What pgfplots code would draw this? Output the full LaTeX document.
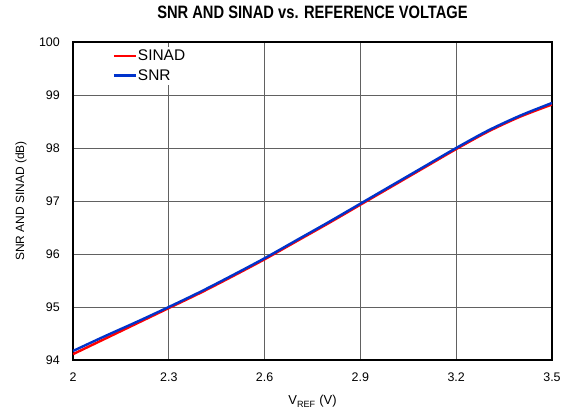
\documentclass[border=0pt]{standalone}
\usepackage{pgfplots}
\pgfplotsset{compat=1.18}
\usepackage{fontspec}
\setmainfont{Liberation Sans}
\newfontfamily\titlefont[FakeStretch=0.82]{Liberation Sans}
\definecolor{snrblue}{RGB}{0,51,204}
\definecolor{sinadred}{RGB}{255,0,0}
\begin{document}
\begin{tikzpicture}[x=1bp,y=1bp]
\begin{axis}[
  scale only axis,
  width=479bp, height=318bp,
  xmin=2, xmax=3.5, ymin=94, ymax=100,
  xtick={2,2.3,2.6,2.9,3.2,3.5},
  xticklabels={2,2.3,2.6,2.9,3.2,3.5},
  ytick={94,95,96,97,98,99,100},
  /pgf/number format/assume math mode=true,
  major tick length=0pt,
  grid=major,
  grid style={draw=black!62, line width=0.8bp},
  axis line style={line width=1.6bp, black},
  ticklabel style={font=\fontsize{12.5}{14}\selectfont},
  yticklabel style={inner sep=0pt, anchor=east, xshift=-13bp},
  xticklabel style={inner sep=0pt, anchor=north, yshift=-13bp},
  xlabel={V\textsubscript{REF} (V)},
  ylabel={SNR AND SINAD (dB)},
  xlabel style={font=\fontsize{13}{15}\selectfont, at={(axis description cs:0.5,-0.1415)}, anchor=base},
  ylabel style={font=\fontsize{12}{14}\selectfont, at={(axis description cs:-0.1086,0.5)}, anchor=center},
  title={\titlefont\bfseries SNR AND SINAD vs. REFERENCE VOLTAGE},
  title style={font=\fontsize{18}{20}\selectfont, at={(axis description cs:0.5,1.0566)}, anchor=base},
  legend style={at={(axis description cs:0.078,0.985)}, anchor=north west, draw=none, fill=white,
    font=\fontsize{15.5}{17}\selectfont, row sep=5bp, inner sep=2bp,
    nodes={inner xsep=1bp, inner ysep=1bp}},
  legend cell align=left,
  legend image code/.code={\draw[#1] (0bp,0bp) -- (22bp,0bp);},
]
\addplot[sinadred, line width=2.4bp, smooth] coordinates {
(2.0,94.11) (2.1,94.40) (2.2,94.69) (2.3,94.98) (2.4,95.27) (2.5,95.58) (2.6,95.90)
(2.7,96.24) (2.8,96.58) (2.9,96.93) (3.0,97.28) (3.1,97.63) (3.2,97.98) (3.3,98.31)
(3.4,98.59) (3.5,98.82)};
\addlegendentry{SINAD}
\addplot[snrblue, line width=2.4bp, smooth] coordinates {
(2.0,94.17) (2.1,94.45) (2.2,94.72) (2.3,95.00) (2.4,95.29) (2.5,95.60) (2.6,95.92)
(2.7,96.26) (2.8,96.60) (2.9,96.95) (3.0,97.30) (3.1,97.65) (3.2,98.00) (3.3,98.33)
(3.4,98.61) (3.5,98.85)};
\addlegendentry{SNR}
\node[font=\fontsize{10}{12}\selectfont, anchor=base east, inner sep=0pt] at (axis description cs:0.995,1.0189) {toc17};
\end{axis}
\path (current axis.south west) ++(-73bp,-50bp) rectangle ([xshift=21bp,yshift=42bp]current axis.north east);
\end{tikzpicture}
\end{document}
